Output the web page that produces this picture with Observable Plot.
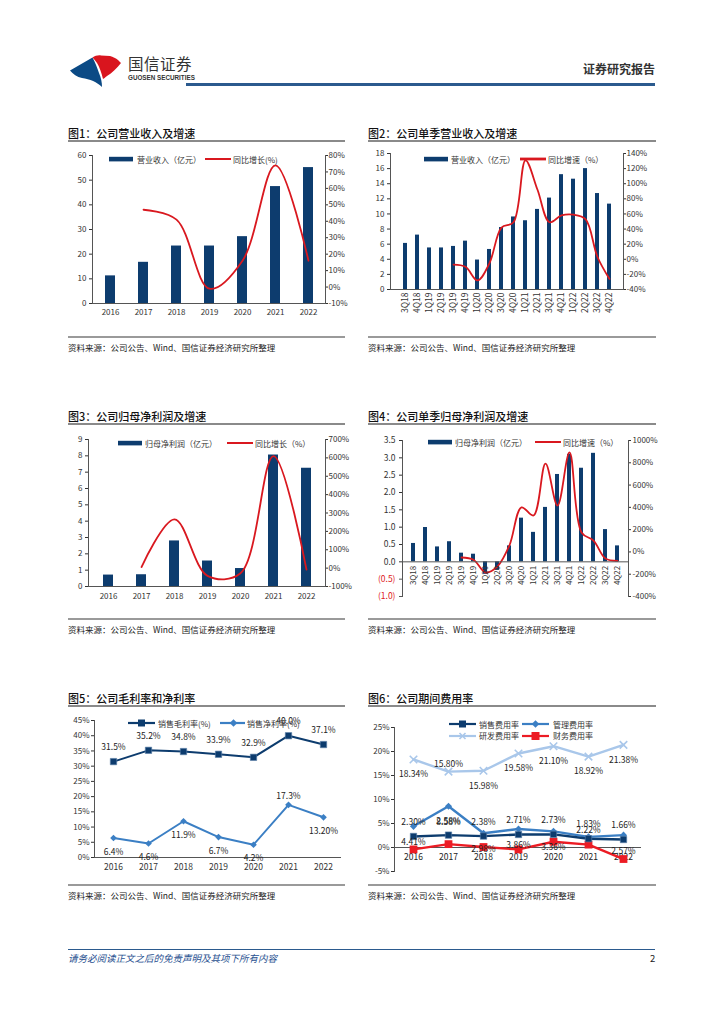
<!DOCTYPE html>
<html><head><meta charset="utf-8">
<script src="https://cdn.jsdelivr.net/npm/d3@7"></script>
<script src="https://cdn.jsdelivr.net/npm/@observablehq/plot@0.6"></script>
<style>
body{margin:0;background:#fff;}
#page{position:relative;width:724px;height:1024px;font-family:"Noto Sans CJK SC","Noto Sans",sans-serif;color:#222;overflow:hidden;background:#fff;}
.abs{position:absolute;white-space:nowrap;}
.title{font-size:11px;line-height:11px;color:#111;font-weight:500;}
.src{font-size:8.5px;line-height:9px;color:#222;}
.leg{position:absolute;font-size:8px;color:#333;display:flex;align-items:center;white-space:nowrap;height:12px;}
.leg svg{display:block;}
</style></head><body><div id="page"></div>
<script>
// ---------------- data ----------------
const years = ["2016","2017","2018","2019","2020","2021","2022"];
const revenue = [11.2,16.7,23.3,23.3,27.1,47.4,55.1];
const revenueGrowth = [null,47,41,-1,16,74,16];

const quarters = ["3Q18","4Q18","1Q19","2Q19","3Q19","4Q19","1Q20","2Q20","3Q20","4Q20","1Q21","2Q21","3Q21","4Q21","1Q22","2Q22","3Q22","4Q22"];
const qRevenue = [6.1,7.2,5.5,5.5,5.7,6.4,3.9,5.3,8.2,9.6,9.1,10.6,12.1,15.2,14.6,16.0,12.7,11.3];
const qRevenueGrowth = [null,null,null,null,-7,-10,-28,-5,42,49,131,92,49,58,59,53,3,-26];

const netProfit = [0.70,0.72,2.79,1.56,1.10,8.05,7.24];
const netProfitGrowth = [null,6,265,-42,-28,610,-8];

const qNetProfit = [0.53,0.99,0.43,0.58,0.25,0.22,-0.36,-0.24,0.46,1.26,0.85,1.57,2.52,3.10,2.70,3.13,0.93,0.46];
const qNetProfitGrowth = [null,null,null,null,-50,-70,-185,-130,60,400,327,793,416,893,175,102,-59,-80];

const grossMargin = [31.5,35.2,34.8,33.9,32.9,40.0,37.1];
const grossLabels = ["31.5%","35.2%","34.8%","33.9%","32.9%","40.0%","37.1%"];
const netMargin = [6.4,4.6,11.9,6.7,4.2,17.3,13.2];
const netLabels = ["6.4%","4.6%","11.9%","6.7%","4.2%","17.3%","13.20%"];

const salesRate = [2.30,2.58,2.38,2.71,2.73,1.83,1.66];
const salesLabels = ["2.30%","2.58%","2.38%","2.71%","2.73%","1.83%","1.66%"];
const adminRate = [4.41,8.58,2.98,3.86,3.36,2.22,2.57];
const adminLabels = ["4.41%","8.58%","2.98%","3.86%","3.36%","2.22%","2.57%"];
const rdRate = [18.34,15.80,15.98,19.58,21.10,18.92,21.38];
const rdLabels = ["18.34%","15.80%","15.98%","19.58%","21.10%","18.92%","21.38%"];
const finRate = [-0.4,0.7,0.1,-0.4,1.2,0.6,-2.4];

// ---------------- styles ----------------
const FONT = '"Noto Sans CJK SC","Noto Sans",sans-serif';
const NAVY = "#0d3c6e";
const RED = "#d9181f";
const MIDBLUE = "#3b7fc4";
const LIGHTBLUE = "#a9c7ea";
const FINRED = "#ec1c24";
const AXIS = "#555";
const page = document.getElementById("page");
const baseStyle = {fontFamily: FONT, fontSize: "8px", color: "#333", background: "transparent", overflow: "visible"};

function mount(el, left, top) {
  el.style.position = "absolute"; el.style.left = left + "px"; el.style.top = top + "px";
  page.appendChild(el);
}
function textDiv(cls, left, top, html, extra) {
  const d = document.createElement("div");
  d.className = "abs " + cls; d.style.left = left + "px"; d.style.top = top + "px";
  d.innerHTML = html; if (extra) Object.assign(d.style, extra);
  page.appendChild(d); return d;
}
function hline(x1, x2, y, color, w) {
  const d = document.createElement("div");
  Object.assign(d.style, {position: "absolute", left: x1 + "px", top: (y - w / 2) + "px", width: (x2 - x1) + "px", height: w + "px", background: color});
  page.appendChild(d);
}
const sw = {
  bar: `<svg width="24" height="12"><rect x="0" y="3.8" width="24" height="4.6" fill="${NAVY}"/></svg>`,
  red: `<svg width="26" height="12"><line x1="0" x2="26" y1="6" y2="6" stroke="${RED}" stroke-width="2"/></svg>`,
  navySq: `<svg width="27" height="12"><line x1="0" x2="27" y1="6" y2="6" stroke="${NAVY}" stroke-width="2.2"/><rect x="10" y="2.5" width="7" height="7" fill="${NAVY}"/></svg>`,
  blueDia: `<svg width="27" height="12"><line x1="0" x2="27" y1="6" y2="6" stroke="${MIDBLUE}" stroke-width="2.2"/><path d="M13.5,2.2L17.3,6L13.5,9.8L9.7,6Z" fill="${MIDBLUE}"/></svg>`,
  lightX: `<svg width="27" height="12"><line x1="0" x2="27" y1="6" y2="6" stroke="${LIGHTBLUE}" stroke-width="2.2"/><path d="M10.5,3L16.5,9M16.5,3L10.5,9" stroke="${LIGHTBLUE}" stroke-width="1.6"/></svg>`,
  redSq: `<svg width="27" height="12"><line x1="0" x2="27" y1="6" y2="6" stroke="${FINRED}" stroke-width="2.2"/><rect x="9.5" y="2" width="8" height="8" fill="${FINRED}"/></svg>`
};
function legend(left, cy, swatch, text, gap) {
  const d = document.createElement("div");
  d.className = "leg"; d.style.left = left + "px"; d.style.top = (cy - 6) + "px";
  d.innerHTML = swatch + `<span style="margin-left:${gap}px">${text}</span>`;
  page.appendChild(d);
}

// ---------------- header / footer ----------------
const hdr = document.createElementNS("http://www.w3.org/2000/svg", "svg");
hdr.setAttribute("width", "724"); hdr.setAttribute("height", "100");
hdr.innerHTML = `<path d="M70,70.5 L92.5,57.5 C95,62 97,67 99,73 C101,78 102,82 102,87 C97,82 90,79 82,78 C77,77 73,74 70,70.5 Z" fill="#0b4a85"/>
<path d="M92.5,57.5 C95,56 98,55 101,55.5 L110,56 C113,57 116,58 118,60 L121,63 C117,68 112,73 107,76 C105,77.5 104,78.5 103,79 C101.5,73 99.5,67 97,63 C95.5,61 94,59 92.5,57.5 Z" fill="#d9151e"/>`;
mount(hdr, 0, 0);
textDiv("", 128, 55, "国信证券", {fontSize: "15.5px", lineHeight: "16px", color: "#333", letterSpacing: "0.5px"});
textDiv("", 128, 74, "GUOSEN SECURITIES", {fontSize: "6.3px", lineHeight: "7px", color: "#333", fontFamily: '"Liberation Sans Narrow","Liberation Sans",sans-serif', fontWeight: "bold"});
textDiv("", 583, 62, "证券研究报告", {fontSize: "12px", lineHeight: "13px", color: "#333", fontWeight: "bold"});
hline(186, 655, 84.5, "#2b5a8e", 2.4);

hline(68, 655, 949, "#2b5a8e", 1);
textDiv("", 68, 953, "请务必阅读正文之后的免责声明及其项下所有内容", {fontSize: "9.5px", lineHeight: "10px", color: "#1f4f8f", fontStyle: "italic"});
textDiv("", 650, 953, "2", {fontSize: "9.5px", lineHeight: "10px", color: "#222"});

// ---------------- titles, rules, sources ----------------
const titles = [
  ["图1：公司营业收入及增速", 68, 127.5, 345], ["图2：公司单季营业收入及增速", 368, 127.5, 656],
  ["图3：公司归母净利润及增速", 68, 410.5, 345], ["图4：公司单季归母净利润及增速", 368, 410.5, 656],
  ["图5：公司毛利率和净利率", 68, 692.5, 345], ["图6：公司期间费用率", 368, 692.5, 656]
];
for (const [t, x, y, x2] of titles) { textDiv("title", x, y, t); hline(x, x2, y + 13.5, "#8a8a8a", 1.5); }
const SRC = "资料来源：公司公告、Wind、国信证券经济研究所整理";
for (const [x, x2, y] of [[68,345,337],[368,656,337],[68,345,619],[368,656,619],[68,345,885],[368,656,885]]) {
  hline(x, x2, y, "#9a9a9a", 1.5);
  textDiv("src", x, y + 6, SRC);
}

// ---------------- chart 1 ----------------
{
  const toPri = g => (g + 10) / 90 * 60, toSec = v => v / 60 * 90 - 10;
  const data = years.map((x, i) => ({x, v: revenue[i], g: revenueGrowth[i]}));
  mount(Plot.plot({
    width: 290, height: 180, marginLeft: 30, marginRight: 27, marginTop: 10, marginBottom: 22, style: baseStyle,
    x: {type: "band", domain: years, paddingInner: 0.7, paddingOuter: 0.35},
    y: {domain: [0, 60]},
    marks: [
      Plot.barY(data, {x: "x", y: "v", fill: NAVY}),
      Plot.line(data.filter(d => d.g != null), {x: "x", y: d => toPri(d.g), stroke: RED, strokeWidth: 1.8, curve: "catmull-rom"}),
      Plot.ruleY([0], {stroke: AXIS}),
      Plot.frame({anchor: "left", stroke: AXIS}),
      Plot.frame({anchor: "right", stroke: AXIS}),
      Plot.axisY({ticks: d3.range(0, 61, 10), tickSize: 3, tickPadding: 3, label: null}),
      Plot.axisY({ticks: d3.range(-10, 81, 10).map(toPri), anchor: "right", tickSize: 2, tickPadding: 1, tickFormat: d => Math.round(toSec(d)) + "%", label: null}),
      Plot.axisX({tickSize: 0, tickPadding: 6, label: null})
    ]
  }), 62, 145);
  legend(109, 159, sw.bar, "营业收入（亿元）", 4);
  legend(205, 159, sw.red, "同比增长(%)", 2);
}

// ---------------- chart 2 ----------------
{
  const toPri = g => (g + 40) / 180 * 18, toSec = v => v / 18 * 180 - 40;
  const data = quarters.map((x, i) => ({x, v: qRevenue[i], g: qRevenueGrowth[i]}));
  mount(Plot.plot({
    width: 290, height: 190, marginLeft: 28, marginRight: 29, marginTop: 10, marginBottom: 44, style: baseStyle,
    x: {type: "band", domain: quarters, paddingInner: 0.68, paddingOuter: 0.34},
    y: {domain: [0, 18]},
    marks: [
      Plot.barY(data, {x: "x", y: "v", fill: NAVY}),
      Plot.line(data.filter(d => d.g != null), {x: "x", y: d => toPri(d.g), stroke: RED, strokeWidth: 1.8, curve: "catmull-rom"}),
      Plot.ruleY([0], {stroke: AXIS}),
      Plot.frame({anchor: "left", stroke: AXIS}),
      Plot.frame({anchor: "right", stroke: AXIS}),
      Plot.axisY({ticks: d3.range(0, 19, 2), tickSize: 3, tickPadding: 3, label: null}),
      Plot.axisY({ticks: d3.range(-40, 141, 20).map(toPri), anchor: "right", tickSize: 2, tickPadding: 1, tickFormat: d => Math.round(toSec(d)) + "%", label: null}),
      Plot.axisX({tickSize: 0, tickPadding: 3, tickRotate: -90, fontSize: 8.5, label: null})
    ]
  }), 362, 143);
  legend(424, 159, sw.bar, "营业收入（亿元）", 3);
  legend(520, 159, sw.red.replace('stroke-width="2"', 'stroke-width="2.8"'), "同比增速（%）", 2);
}

// ---------------- chart 3 ----------------
{
  const toPri = g => (g + 100) / 800 * 9, toSec = v => v / 9 * 800 - 100;
  const data = years.map((x, i) => ({x, v: netProfit[i], g: netProfitGrowth[i]}));
  mount(Plot.plot({
    width: 292, height: 180, marginLeft: 28, marginRight: 27, marginTop: 10, marginBottom: 23, style: baseStyle,
    x: {type: "band", domain: years, paddingInner: 0.7, paddingOuter: 0.35},
    y: {domain: [0, 9]},
    marks: [
      Plot.barY(data, {x: "x", y: "v", fill: NAVY}),
      Plot.line(data.filter(d => d.g != null), {x: "x", y: d => toPri(d.g), stroke: RED, strokeWidth: 1.8, curve: "catmull-rom"}),
      Plot.ruleY([0], {stroke: AXIS}),
      Plot.frame({anchor: "left", stroke: AXIS}),
      Plot.frame({anchor: "right", stroke: AXIS}),
      Plot.axisY({ticks: d3.range(0, 10, 1), tickSize: 3, tickPadding: 3, label: null}),
      Plot.axisY({ticks: d3.range(-100, 701, 100).map(toPri), anchor: "right", tickSize: 2, tickPadding: 1, tickFormat: d => Math.round(toSec(d)) + "%", label: null}),
      Plot.axisX({tickSize: 0, tickPadding: 7, label: null})
    ]
  }), 60, 429);
  legend(118, 443, sw.bar, "归母净利润（亿元）", 3);
  legend(227, 443, sw.red, "同比增长（%）", 2);
}

// ---------------- chart 4 ----------------
{
  const toPri = g => -1 + (g + 400) / 1400 * 4.5, toSec = v => (v + 1) / 4.5 * 1400 - 400;
  const data = quarters.map((x, i) => ({x, v: qNetProfit[i], g: qNetProfitGrowth[i]}));
  const leftTicks = d3.range(-2, 8).map(k => k / 2);
  mount(Plot.plot({
    width: 295, height: 180, marginLeft: 40, marginRight: 29, marginTop: 10, marginBottom: 14, style: baseStyle,
    x: {type: "band", domain: quarters, paddingInner: 0.68, paddingOuter: 0.34, axis: null},
    y: {domain: [-1, 3.5]},
    marks: [
      Plot.barY(data, {x: "x", y: "v", fill: NAVY}),
      Plot.line(data.filter(d => d.g != null), {x: "x", y: d => toPri(d.g), stroke: RED, strokeWidth: 1.8, curve: "catmull-rom"}),
      Plot.ruleY([0], {stroke: AXIS}),
      Plot.frame({anchor: "left", stroke: AXIS}),
      Plot.frame({anchor: "right", stroke: AXIS}),
      Plot.axisY({ticks: leftTicks.filter(t => t >= 0), tickSize: 3, tickPadding: 4, tickFormat: d => d.toFixed(1), fontSize: 8.5, label: null}),
      Plot.axisY({ticks: leftTicks.filter(t => t < 0), tickSize: 3, tickPadding: 4, stroke: AXIS, fill: "#e0201b", tickFormat: d => "(" + (-d).toFixed(1) + ")", fontSize: 8.5, label: null}),
      Plot.axisY({ticks: d3.range(-400, 1001, 200).map(toPri), anchor: "right", tickSize: 2, tickPadding: 2, tickFormat: d => Math.round(toSec(d)) + "%", label: null}),
      Plot.text(quarters, {x: d => d, y: d => 0, text: d => d, rotate: -90, textAnchor: "end", dy: 4, fontSize: 8})
    ]
  }), 362, 430);
  legend(428, 442, sw.bar, "归母净利润（亿元）", 3);
  legend(535, 442, sw.red, "同比增速（%）", 2);
}

// ---------------- chart 5 ----------------
{
  const data = years.map((x, i) => ({x, gross: grossMargin[i], gl: grossLabels[i], net: netMargin[i], nl: netLabels[i]}));
  const netAbove = ["2021"];
  mount(Plot.plot({
    width: 295, height: 170, marginLeft: 34, marginRight: 14, marginTop: 10, marginBottom: 23, style: baseStyle,
    x: {type: "point", domain: years, padding: 0.5},
    y: {domain: [0, 45]},
    marks: [
      Plot.ruleY([0], {stroke: AXIS}),
      Plot.frame({anchor: "left", stroke: AXIS}),
      Plot.axisY({ticks: d3.range(0, 46, 5), tickSize: 3, tickPadding: 2, tickFormat: d => d + "%", label: null}),
      Plot.axisX({tickSize: 0, tickPadding: 6, fontSize: 8.5, label: null}),
      Plot.line(data, {x: "x", y: "gross", stroke: NAVY, strokeWidth: 2}),
      Plot.dot(data, {x: "x", y: "gross", symbol: "square", r: 3.6, fill: NAVY, stroke: "#5a7fa8", strokeWidth: 0.6}),
      Plot.line(data, {x: "x", y: "net", stroke: MIDBLUE, strokeWidth: 2}),
      Plot.dot(data, {x: "x", y: "net", symbol: "diamond2", r: 3, fill: MIDBLUE}),
      Plot.text(data, {x: "x", y: "gross", text: "gl", dy: -14, fontSize: 8.5, fill: "#222"}),
      Plot.text(data.filter(d => !netAbove.includes(d.x)), {x: "x", y: "net", text: "nl", dy: 14, fontSize: 8.5, fill: "#222"}),
      Plot.text(data.filter(d => netAbove.includes(d.x)), {x: "x", y: "net", text: "nl", dy: -9, fontSize: 8.5, fill: "#222"})
    ]
  }), 60, 710);
  legend(128, 723, sw.navySq, "销售毛利率(%)", 3);
  legend(220, 723, sw.blueDia.replace('width="27"', 'width="25"'), "销售净利率(%)", 2);
}

// ---------------- chart 6 ----------------
{
  const data = years.map((x, i) => ({x, s: salesRate[i], sl: salesLabels[i], a: adminRate[i], al: adminLabels[i], r: rdRate[i], rl: rdLabels[i], f: finRate[i]}));
  const adminAbove = ["2021"], rdAbove = ["2017"];
  const lab = {fontSize: 8.5, fill: "#222"};
  mount(Plot.plot({
    width: 295, height: 166, marginLeft: 34, marginRight: 14, marginTop: 10, marginBottom: 12, style: baseStyle,
    x: {type: "point", domain: years, padding: 0.5, axis: null},
    y: {domain: [-5, 25]},
    marks: [
      Plot.ruleY([0], {stroke: AXIS}),
      Plot.frame({anchor: "left", stroke: AXIS}),
      Plot.axisY({ticks: d3.range(-5, 26, 5), tickSize: 3, tickPadding: 2, tickFormat: d => d + "%", label: null}),
      Plot.text(years, {x: d => d, y: d => 0, text: d => d, dy: 10, fontSize: 8.5, fill: "#222"}),
      Plot.line(data, {x: "x", y: "r", stroke: LIGHTBLUE, strokeWidth: 2.4}),
      Plot.dot(data, {x: "x", y: "r", symbol: "times", r: 3.5, stroke: LIGHTBLUE, strokeWidth: 1.6}),
      Plot.line(data, {x: "x", y: "f", stroke: FINRED, strokeWidth: 2.4}),
      Plot.dot(data, {x: "x", y: "f", symbol: "square", r: 4.4, fill: FINRED}),
      Plot.line(data, {x: "x", y: "a", stroke: MIDBLUE, strokeWidth: 2.4}),
      Plot.dot(data, {x: "x", y: "a", symbol: "diamond2", r: 3.2, fill: MIDBLUE}),
      Plot.line(data, {x: "x", y: "s", stroke: NAVY, strokeWidth: 2.4}),
      Plot.dot(data, {x: "x", y: "s", symbol: "square", r: 3.6, fill: NAVY, stroke: "#5a7fa8", strokeWidth: 0.6}),
      Plot.text(data, {x: "x", y: "s", text: "sl", dy: -14, ...lab}),
      Plot.text(data.filter(d => !adminAbove.includes(d.x)), {x: "x", y: "a", text: "al", dy: 16, ...lab}),
      Plot.text(data.filter(d => adminAbove.includes(d.x)), {x: "x", y: "a", text: "al", dy: -7, ...lab}),
      Plot.text(data.filter(d => !rdAbove.includes(d.x)), {x: "x", y: "r", text: "rl", dy: 15, ...lab}),
      Plot.text(data.filter(d => rdAbove.includes(d.x)), {x: "x", y: "r", text: "rl", dy: -7, ...lab})
    ]
  }), 360, 717);
  legend(449, 724, sw.navySq, "销售费用率", 3);
  legend(522, 724, sw.blueDia.replace('width="27"', 'width="28"'), "管理费用率", 3);
  legend(449, 735.5, sw.lightX, "研发费用率", 3);
  legend(522, 735.5, sw.redSq.replace('width="27"', 'width="28"'), "财务费用率", 3);
}
</script></body></html>
